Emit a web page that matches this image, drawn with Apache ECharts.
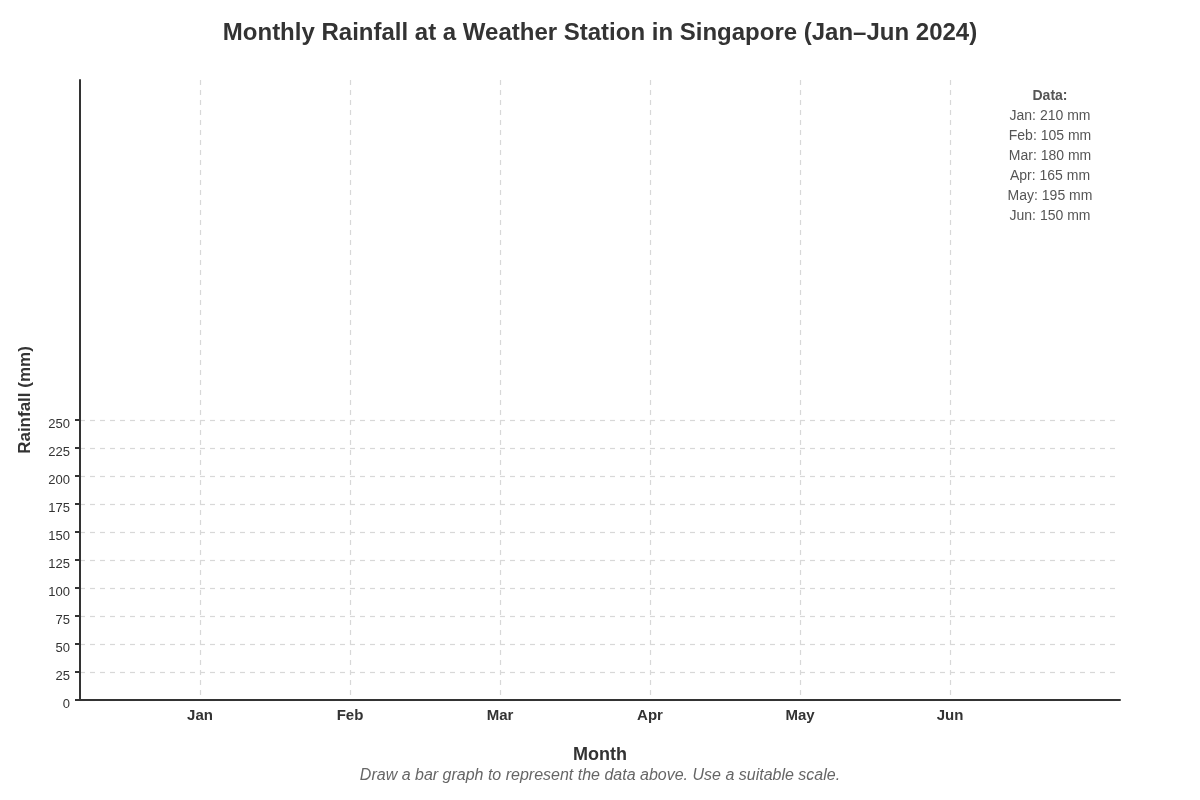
<!DOCTYPE html>
<html>
<head>
<meta charset="utf-8">
<title>Monthly Rainfall</title>
<script src="https://cdn.jsdelivr.net/npm/echarts@6/dist/echarts.min.js"></script>
<style>
  html, body { margin: 0; padding: 0; background: #fff; }
  #chart { width: 1200px; height: 800px; }
</style>
</head>
<body>
<div id="chart"></div>
<script>
// data
var months = ['Jan', 'Feb', 'Mar', 'Apr', 'May', 'Jun'];
var rainfall = [210, 105, 180, 165, 195, 150];
var yTicks = [0, 25, 50, 75, 100, 125, 150, 175, 200, 225, 250];
var monthPos = [1, 2, 3, 4, 5, 6];

var font = '"Liberation Sans", Arial, Helvetica, sans-serif';

// data list shown top right
var dataLines = ['{b|Data:}'];
for (var i = 0; i < months.length; i++) {
  dataLines.push(months[i] + ': ' + rainfall[i] + ' mm');
}

var myChart = echarts.init(document.getElementById('chart'));

var option = {
  backgroundColor: '#fff',
  textStyle: { fontFamily: font },
  title: [
    {
      text: 'Monthly Rainfall at a Weather Station in Singapore (Jan\u2013Jun 2024)',
      left: 'center',
      top: 16,
      textStyle: { fontSize: 24, fontWeight: 'bold', color: '#333', fontFamily: font }
    },
    {
      text: dataLines.join('\n'),
      left: 1045,
      top: 81,
      textAlign: 'center',
      textStyle: {
        fontSize: 14, fontWeight: 'normal', color: '#555', lineHeight: 20, fontFamily: font,
        rich: { b: { fontSize: 14, fontWeight: 'bold', color: '#555', lineHeight: 20, fontFamily: font } }
      }
    },
    {
      text: 'Draw a bar graph to represent the data above. Use a suitable scale.',
      left: 'center',
      top: 763,
      textStyle: { fontSize: 16, fontStyle: 'italic', fontWeight: 'normal', color: '#666', fontFamily: font }
    }
  ],
  grid: { left: 80, right: 80, top: 80, bottom: 100, containLabel: false },
  xAxis: {
    type: 'value',
    min: 0.2,
    max: 7.1333,
    name: 'Month',
    nameLocation: 'middle',
    nameGap: 46,
    nameTextStyle: { fontSize: 18, fontWeight: 'bold', color: '#333' },
    axisLine: { show: true, onZero: false, lineStyle: { color: '#333', width: 2 } },
    axisTick: { show: false, customValues: monthPos },
    axisLabel: {
      customValues: monthPos,
      formatter: function (v) { return months[Math.round(v) - 1]; },
      fontSize: 15, fontWeight: 'bold', color: '#333', margin: 8
    },
    splitLine: { show: true, lineStyle: { color: '#d8d8d8', type: [5, 5], width: 1.2 } }
  },
  yAxis: {
    type: 'value',
    min: 0,
    max: 553.57,
    name: 'Rainfall (mm)',
    nameLocation: 'middle',
    nameGap: 46,
    nameRotate: 90,
    nameTextStyle: { fontSize: 17, fontWeight: 'bold', color: '#333', padding: [0, 20, 0, 0] },
    axisLine: { show: true, onZero: false, lineStyle: { color: '#333', width: 2 } },
    axisTick: { show: true, length: 5, customValues: yTicks, lineStyle: { color: '#333', width: 2 } },
    axisLabel: { customValues: yTicks, fontSize: 13, color: '#333', margin: 10, verticalAlign: 'top', lineHeight: 8 },
    splitLine: { show: true, lineStyle: { color: '#d8d8d8', type: [5, 5], width: 1.2 } }
  },
  series: []
};

myChart.setOption(option);
</script>
</body>
</html>
